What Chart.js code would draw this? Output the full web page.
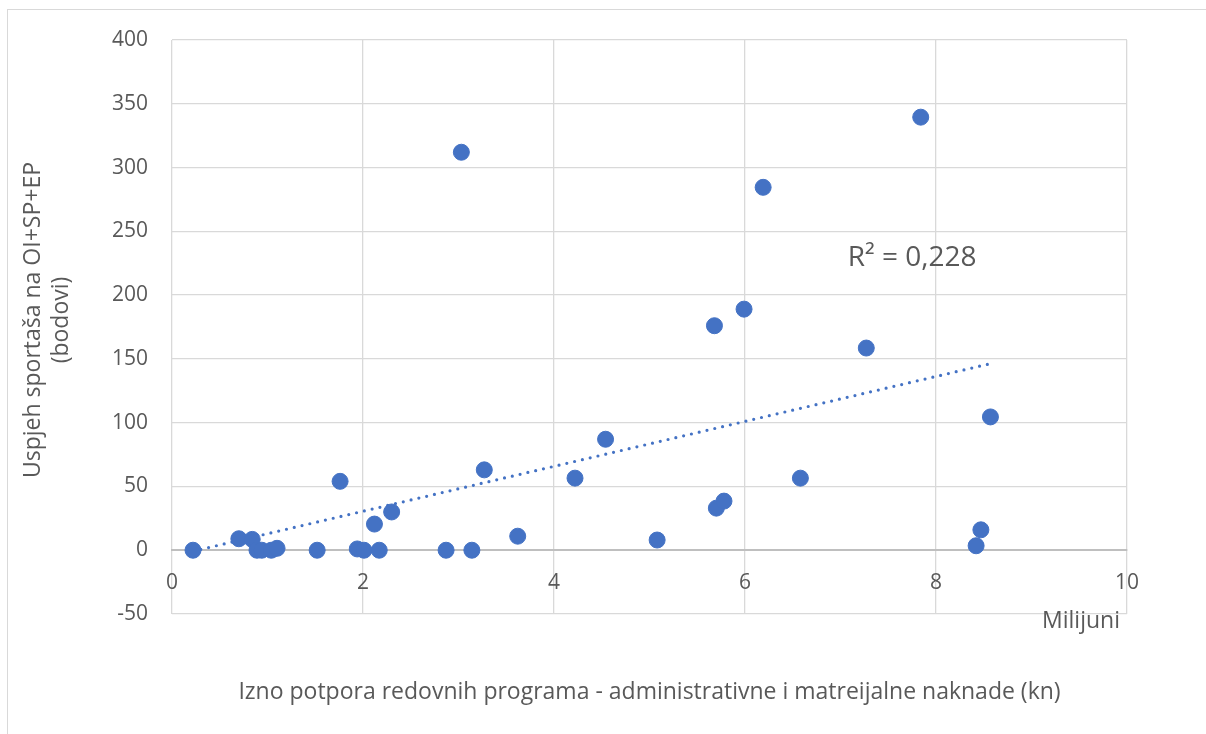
<!DOCTYPE html>
<html>
<head>
<meta charset="utf-8">
<script src="https://cdn.jsdelivr.net/npm/chart.js@4.4.1/dist/chart.umd.min.js"></script>
<style>
body { margin: 0; background: #fff; overflow: hidden; }
.frame { position: absolute; left: 7px; top: 9px; width: 1300px; height: 800px; border: 1px solid #d9d9d9; }
.wrap { position: absolute; left: 0; top: 0; width: 1206px; height: 734px; }
</style>
</head>
<body>
<div class="frame"></div>
<div class="wrap"><canvas id="chart"></canvas></div>
<script>
// potpora u milijunima kn
const support = [0.22, 0.70, 0.84, 0.89, 0.94, 1.04, 1.10, 1.52, 1.76, 1.94, 2.01,
                 2.12, 2.17, 2.30, 2.87, 3.03, 3.14, 3.27, 3.62, 4.22, 4.54, 5.08,
                 5.68, 5.70, 5.78, 5.99, 6.19, 6.58, 7.27, 7.84, 8.42, 8.47, 8.57];
// bodovi OI+SP+EP
const success = [0, 9, 8.5, 0, 0, 0, 1.5, 0, 54, 1, 0,
                 20.5, 0, 30, 0, 312, 0, 63, 11, 56.5, 87, 8,
                 176, 33, 38.5, 189, 284.5, 56.5, 158.5, 339.5, 3.5, 16, 104.5];

const xRange = [0, 10];
const xStep = 2;
const yRange = [-50, 400];
const yStep = 50;

const r2Label = 'R² = 0,228';
const unitLabel = 'Milijuni';
const xTitle = 'Izno potpora redovnih programa - administrativne i matreijalne naknade (kn)';
const yTitle = ['Uspjeh sportaša na OI+SP+EP', '(bodovi)'];

const textColor = '#595959';
const blue = '#4472C4';

// linearni trend
function linReg(xs, ys) {
    let n = xs.length, sx = 0, sy = 0, sxy = 0, sxx = 0;
    for (let i = 0; i < n; i++) {
        sx += xs[i]; sy += ys[i];
        sxy += xs[i] * ys[i]; sxx += xs[i] * xs[i];
    }
    let b = (n * sxy - sx * sy) / (n * sxx - sx * sx);
    let a = (sy - b * sx) / n;
    return { a, b };
}

const fit = linReg(support, success);
const xMin = Math.min(...support);
const xMax = Math.max(...support);
const trend = [
    { x: xMin, y: fit.a + fit.b * xMin },
    { x: xMax, y: fit.a + fit.b * xMax }
];

const points = support.map((x, i) => ({ x: x, y: success[i] }));

const extraText = {
    id: 'extraText',
    afterDraw(chart) {
        const { ctx, chartArea, scales } = chart;
        ctx.save();
        ctx.fillStyle = textColor;
        ctx.font = '23px "Open Sans"';
        ctx.textBaseline = 'middle';

        ctx.textAlign = 'right';
        ctx.fillText(unitLabel, chartArea.right - 7, chartArea.bottom + 7);

        ctx.textAlign = 'center';
        ctx.fillText(xTitle, (chartArea.left + chartArea.right) / 2, chartArea.bottom + 78);

        ctx.font = '28px "Open Sans"';
        ctx.fillText(r2Label, scales.x.getPixelForValue(7.75), scales.y.getPixelForValue(229));

        ctx.font = '23px "Open Sans"';
        ctx.translate(33, 320);
        ctx.rotate(-Math.PI / 2);
        ctx.fillText(yTitle[0], 0, 0);
        ctx.fillText(yTitle[1], 0, 28);
        ctx.restore();
    }
};

Chart.defaults.font.family = '"Open Sans"';
Chart.defaults.color = textColor;

new Chart(document.getElementById('chart'), {
    data: {
        datasets: [
            {
                type: 'scatter',
                data: points,
                backgroundColor: blue,
                borderColor: blue,
                pointRadius: 8,
                pointHoverRadius: 8
            },
            {
                type: 'line',
                data: trend,
                borderColor: blue,
                borderWidth: 3.2,
                borderDash: [0, 8],
                borderCapStyle: 'round',
                pointRadius: 0,
                fill: false
            }
        ]
    },
    options: {
        responsive: true,
        maintainAspectRatio: false,
        animation: false,
        layout: { padding: { left: 0, top: 40, right: 79, bottom: 120 } },
        plugins: {
            legend: { display: false },
            tooltip: { enabled: false }
        },
        scales: {
            x: {
                type: 'linear',
                position: { y: 0 },
                min: xRange[0],
                max: xRange[1],
                ticks: { stepSize: xStep, padding: 20, font: { size: 21 }, color: textColor },
                grid: { color: '#d9d9d9', lineWidth: 1.3, drawTicks: false },
                border: { color: '#bfbfbf', width: 2 }
            },
            y: {
                type: 'linear',
                position: 'left',
                min: yRange[0],
                max: yRange[1],
                afterFit(scale) { scale.width = 172; },
                ticks: { stepSize: yStep, padding: 24, font: { size: 21 }, color: textColor },
                grid: {
                    color: ctx => ctx.tick && ctx.tick.value === 0 ? '#bfbfbf' : '#d9d9d9',
                    lineWidth: ctx => ctx.tick && ctx.tick.value === 0 ? 2 : 1.3,
                    drawTicks: false
                },
                border: { display: false }
            }
        }
    },
    plugins: [extraText]
});
</script>
</body>
</html>
